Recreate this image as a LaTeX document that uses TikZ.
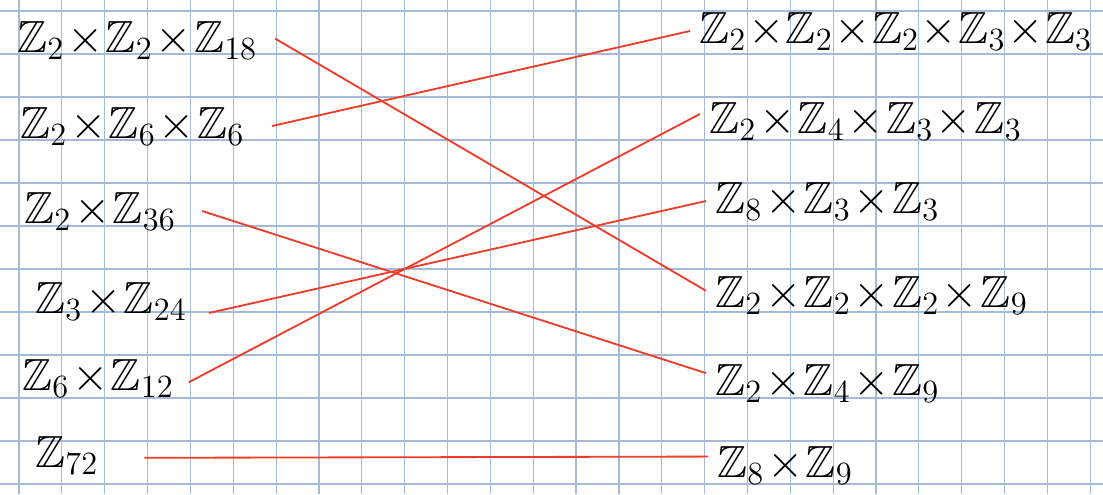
\documentclass[tikz,border=0pt]{standalone}
\usepackage{amsmath,amssymb}
\usetikzlibrary{calc}
\definecolor{gridblue}{RGB}{165,185,216}
\definecolor{penred}{RGB}{238,60,42}
\newcommand{\prodsep}{\mkern1mu{\times}\mkern1mu}
\newcommand{\tprodsep}{\mkern0.6mu{\times}\mkern0.6mu}

\begin{document}
\begin{tikzpicture}[
    x=0.025cm, y=-0.025cm,
    every node/.style={font=\fontsize{20}{24}\selectfont, scale=1.6, transform shape,
                       inner xsep=4pt, inner ysep=1pt, anchor=base west},
    grid/.style={draw=gridblue, line width=0.85pt},
    link/.style={draw=penred, line width=1.3pt}
  ]
    % paper
    \fill[white] (0,0) rectangle (1103,494);
    \useasboundingbox (0,0) rectangle (1103,494);
    \foreach \i in {0,...,25} {\draw[grid] ({19+42.85*\i},0) -- ({19+42.85*\i},494);}
    \foreach \j in {0,...,11} {\draw[grid] (0,{11+43*\j}) -- (1103,{11+43*\j});}

    % left column
    \node (l1) at (8,52)  {$\mathbb{Z}_2\prodsep\mathbb{Z}_2\prodsep\mathbb{Z}_{18}$};
    \node (l2) at (11,138) {$\mathbb{Z}_2\prodsep\mathbb{Z}_6\prodsep\mathbb{Z}_6$};
    \node (l3) at (15,223) {$\mathbb{Z}_2\prodsep\mathbb{Z}_{36}$};
    \node (l4) at (26,313) {$\mathbb{Z}_3\prodsep\mathbb{Z}_{24}$};
    \node (l5) at (13,390) {$\mathbb{Z}_6\prodsep\mathbb{Z}_{12}$};
    \node (l6) at (26,467) {$\mathbb{Z}_{72}$};

    % right column
    \node (r1) at (690,43)  {$\mathbb{Z}_2\tprodsep\mathbb{Z}_2\tprodsep\mathbb{Z}_2\tprodsep\mathbb{Z}_3\tprodsep\mathbb{Z}_3$};
    \node (r2) at (700,133) {$\mathbb{Z}_2\prodsep\mathbb{Z}_4\prodsep\mathbb{Z}_3\prodsep\mathbb{Z}_3$};
    \node (r3) at (706,213) {$\mathbb{Z}_8\prodsep\mathbb{Z}_3\prodsep\mathbb{Z}_3$};
    \node (r4) at (706,307) {$\mathbb{Z}_2\prodsep\mathbb{Z}_2\prodsep\mathbb{Z}_2\prodsep\mathbb{Z}_9$};
    \node (r5) at (706,395) {$\mathbb{Z}_2\prodsep\mathbb{Z}_4\prodsep\mathbb{Z}_9$};
    \node (r6) at (708,477) {$\mathbb{Z}_8\prodsep\mathbb{Z}_9$};

    % matching
    \draw[link] ([xshift=6pt,yshift=1pt]l1.east) -- ([yshift=3pt]r4.west);
    \draw[link] ([xshift=13pt]l2.east) -- (r1.west);
    \draw[link] ([xshift=12pt]l3.east) -- ([yshift=7pt]r5.west);
    \draw[link] ([xshift=9pt]l4.base east) -- (r3.west);
    \draw[link] ([xshift=4pt,yshift=-3pt]l5.east) -- ([yshift=5pt]r2.west);
    \draw[link] ([xshift=26pt,yshift=-2pt]l6.east) -- ([yshift=6pt]r6.west);
\end{tikzpicture}
\end{document}
